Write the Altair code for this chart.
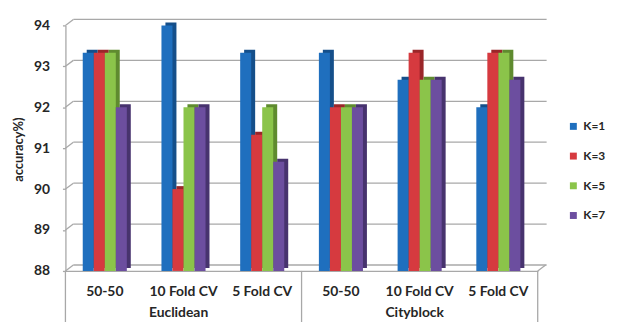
import altair as alt
import pandas as pd

groups = ["Euclidean"] * 3 + ["Cityblock"] * 3
methods = ["50-50", "10 Fold CV", "5 Fold CV"] * 2
k_labels = ["K=1", "K=3", "K=5", "K=7"]
k1 = [93.33, 94.0, 93.33, 93.33, 92.67, 92.0]
k3 = [93.33, 90.0, 91.33, 92.0, 93.33, 93.33]
k5 = [93.33, 92.0, 92.0, 92.0, 92.67, 93.33]
k7 = [92.0, 92.0, 90.67, 92.0, 92.67, 92.67]
y_ticks = [88, 89, 90, 91, 92, 93, 94]

front_colors = ["#1f6fbe", "#d63a3f", "#8bc44a", "#6c4e9f"]
side_colors = ["#154f8a", "#9a2629", "#5f8b2f", "#47336e"]

W, H = 477, 248
FONT = "Lato"
GRID = "#a8a8a8"
DX, DY = 8, 6
PI, PO = 0.44, 0.22
BW = (1 - PI) * W / (6 - PI + 2 * PO)

cats = [g + "|" + m for g, m in zip(groups, methods)]
rows = []
for series, k in zip([k1, k3, k5, k7], k_labels):
    for c, v in zip(cats, series):
        rows.append({"cat": c, "K": k, "acc": v})
df = pd.DataFrame(rows)

xscale = alt.Scale(domain=cats, paddingInner=PI, paddingOuter=PO)
yscale = alt.Scale(domain=[88, 94], nice=False, zero=False)
off_scale = alt.Scale(domain=k_labels, paddingInner=0, paddingOuter=0)
off_scale_shadow = alt.Scale(domain=k_labels, paddingInner=0, paddingOuter=0, range=[4, BW + 4])

y_axis = alt.Axis(title="accuracy%)", values=y_ticks, grid=False,
                  domainColor=GRID, domainWidth=1.3, tickColor=GRID, tickWidth=1.3,
                  tickSize=3, labelPadding=13, labelFont=FONT, labelFontWeight="bold",
                  labelFontSize=14, labelColor="#262626",
                  titleFont=FONT, titleFontSize=13, titleFontWeight="bold",
                  titleColor="#262626", titleX=-47, titleY=H / 2 + 1,
                  titleAngle=270, titleAlign="center", titleBaseline="middle")
x_axis = alt.Axis(title=None, labelExpr="split(datum.value, '|')[1]",
                  ticks=False, domainColor=GRID, domainWidth=1.3,
                  labelFont=FONT, labelFontWeight="bold", labelFontSize=14,
                  labelColor="#262626", labelPadding=14, labelAngle=0)

grid_df = pd.DataFrame({"v": y_ticks})
grid = alt.Chart(grid_df).mark_rule(color=GRID, strokeWidth=1.3, yOffset=-DY).encode(
    y=alt.Y("v:Q", scale=yscale, axis=y_axis),
    x=alt.value(DX), x2=alt.value(W + DX + 1),
)
diag = alt.Chart(grid_df).mark_rule(color=GRID, strokeWidth=1.3, y2Offset=-DY).encode(
    y=alt.Y("v:Q", scale=yscale, axis=y_axis), y2="v:Q",
    x=alt.value(0), x2=alt.value(DX),
)

shadow = alt.Chart(df).mark_bar(yOffset=-3, y2Offset=-3).encode(
    x=alt.X("cat:N", scale=xscale, sort=cats, axis=x_axis),
    xOffset=alt.XOffset("K:N", sort=k_labels, scale=off_scale_shadow),
    y=alt.Y("acc:Q", scale=yscale, axis=y_axis),
    y2=alt.datum(88),
    color=alt.Color("K:N", sort=k_labels,
                    scale=alt.Scale(domain=k_labels, range=side_colors), legend=None),
)

bars = alt.Chart(df).mark_bar().encode(
    x=alt.X("cat:N", scale=xscale, sort=cats, axis=x_axis),
    xOffset=alt.XOffset("K:N", sort=k_labels, scale=off_scale),
    y=alt.Y("acc:Q", scale=yscale, axis=y_axis),
    y2=alt.datum(88),
    color=alt.Color("K:N", sort=k_labels,
                    scale=alt.Scale(domain=k_labels, range=front_colors),
                    legend=alt.Legend(title=None, orient="none", legendX=507, legendY=96,
                                      symbolType="square", symbolSize=49,
                                      symbolStrokeWidth=0, labelFont=FONT,
                                      labelFontWeight="bold", labelFontSize=12,
                                      labelColor="#262626", rowPadding=18, labelOffset=4,
                                      labelLimit=200)),
)

def vrule(px):
    return alt.Chart(pd.DataFrame({"a": [0]})).mark_rule(color=GRID, strokeWidth=1.3).encode(
        x=alt.value(px), y=alt.value(H), y2=alt.value(H + 80),
    )

seps = [vrule(0), vrule(W / 2), vrule(W)]
corner = alt.Chart(pd.DataFrame({"a": [0]})).mark_rule(color=GRID, strokeWidth=1.3).encode(
    x=alt.value(W), x2=alt.value(W + DX), y=alt.value(H), y2=alt.value(H - DY),
)

group_df = pd.DataFrame({"cat": [cats[1], cats[4]], "name": ["Euclidean", "Cityblock"]})
group_text = alt.Chart(group_df).mark_text(font=FONT, fontWeight="bold", fontSize=14,
                                           color="#262626", baseline="top", dx=-5).encode(
    x=alt.X("cat:N", scale=xscale, sort=cats, axis=x_axis),
    y=alt.value(H + 36),
    text="name:N",
)

chart = alt.layer(grid, diag, shadow, bars, *seps, corner, group_text).resolve_scale(
    color="independent", xOffset="independent"
).properties(
    width=W, height=H,
    autosize=alt.AutoSizeParams(type="none"),
    padding={"left": 58, "top": 16, "right": 72, "bottom": 50},
    background="white",
).configure_view(stroke=None)

chart.save("out.html", embed_options={"renderer": "svg", "actions": False})
